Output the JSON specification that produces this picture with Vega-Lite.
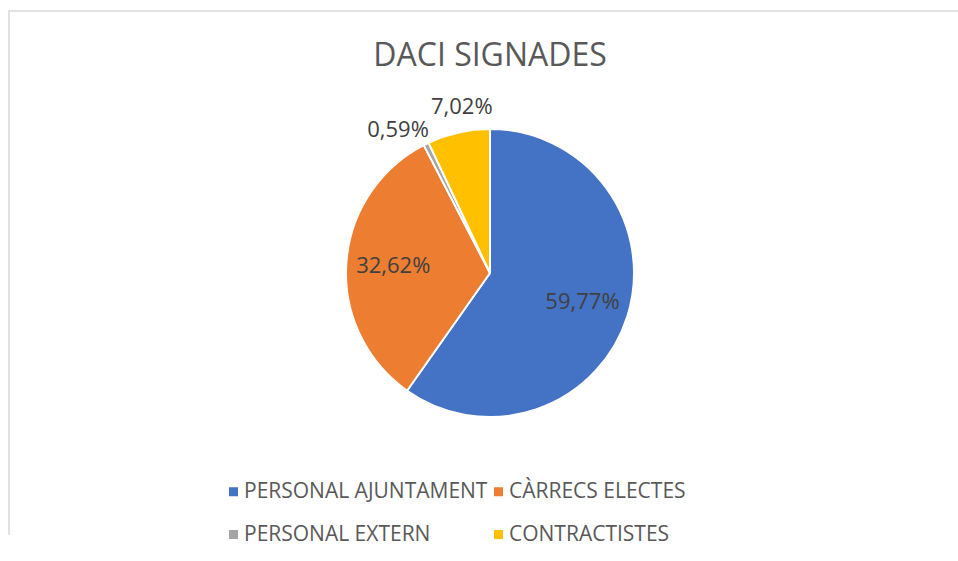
{
  "$schema": "https://vega.github.io/schema/vega-lite/v6.json",
  "width": 962,
  "height": 524,
  "autosize": {"type": "none"},
  "padding": {"left": 9, "top": 11, "right": 0, "bottom": 26},
  "background": "white",
  "title": {
    "text": "DACI SIGNADES",
    "orient": "top",
    "anchor": "middle",
    "offset": -88,
    "baseline": "alphabetic",
    "font": "Open Sans",
    "fontSize": 32,
    "fontWeight": "normal",
    "color": "#595959"
  },
  "config": {
    "view": {"stroke": null},
    "locale": {"number": {"decimal": ",", "thousands": ".", "grouping": [3], "currency": ["", " €"]}}
  },
  "data": {
    "values": [
      {"categoria": "PERSONAL AJUNTAMENT", "share": 0.5977, "ord": 1},
      {"categoria": "CÀRRECS ELECTES", "share": 0.3262, "ord": 2},
      {"categoria": "PERSONAL EXTERN", "share": 0.0059, "ord": 3},
      {"categoria": "CONTRACTISTES", "share": 0.0702, "ord": 4}
    ]
  },
  "layer": [
    {
      "data": {"values": [{"frame": "marc"}]},
      "mark": {"type": "rect", "fill": null, "stroke": "#d9d9d9", "strokeWidth": 1.5, "strokeDash": [1486, 962, 524]},
      "encoding": {}
    },
    {
      "mark": {"type": "arc", "outerRadius": 144, "stroke": "white", "strokeWidth": 2},
      "encoding": {
        "theta": {"field": "share", "type": "quantitative", "stack": true},
        "order": {"field": "ord", "type": "quantitative"},
        "color": {
          "field": "categoria",
          "type": "nominal",
          "scale": {
            "domain": ["PERSONAL AJUNTAMENT", "CÀRRECS ELECTES", "PERSONAL EXTERN", "CONTRACTISTES"],
            "range": ["#4472C4", "#ED7D31", "#A5A5A5", "#FFC000"]
          },
          "legend": {
            "title": null,
            "orient": "none",
            "legendX": 214,
            "legendY": 470,
            "padding": 0,
            "direction": "horizontal",
            "columns": 2,
            "symbolType": "square",
            "symbolSize": 81,
            "symbolStrokeWidth": 0,
            "labelFont": "Open Sans",
            "labelFontSize": 21,
            "labelColor": "#595959",
            "labelOffset": 0,
            "rowPadding": 21,
            "columnPadding": -2,
            "labelLimit": 400
          }
        }
      }
    },
    {
      "mark": {"type": "text", "radius": 97, "font": "Open Sans", "fontSize": 22, "fill": "#404040"},
      "encoding": {
        "theta": {"field": "share", "type": "quantitative", "stack": true},
        "order": {"field": "ord", "type": "quantitative"},
        "text": {"condition": {"test": "datum.share > 0.1", "field": "share", "type": "quantitative", "format": ".2%"}, "value": ""}
      }
    },
    {
      "mark": {"type": "text", "radius": 160, "dx": -21, "font": "Open Sans", "fontSize": 22, "fill": "#404040"},
      "encoding": {
        "theta": {"field": "share", "type": "quantitative", "stack": true},
        "order": {"field": "ord", "type": "quantitative"},
        "text": {"condition": {"test": "datum.categoria === 'PERSONAL EXTERN'", "field": "share", "type": "quantitative", "format": ".2%"}, "value": ""}
      }
    },
    {
      "mark": {"type": "text", "radius": 170, "dx": 9, "font": "Open Sans", "fontSize": 22, "fill": "#404040"},
      "encoding": {
        "theta": {"field": "share", "type": "quantitative", "stack": true},
        "order": {"field": "ord", "type": "quantitative"},
        "text": {"condition": {"test": "datum.categoria === 'CONTRACTISTES'", "field": "share", "type": "quantitative", "format": ".2%"}, "value": ""}
      }
    }
  ]
}
